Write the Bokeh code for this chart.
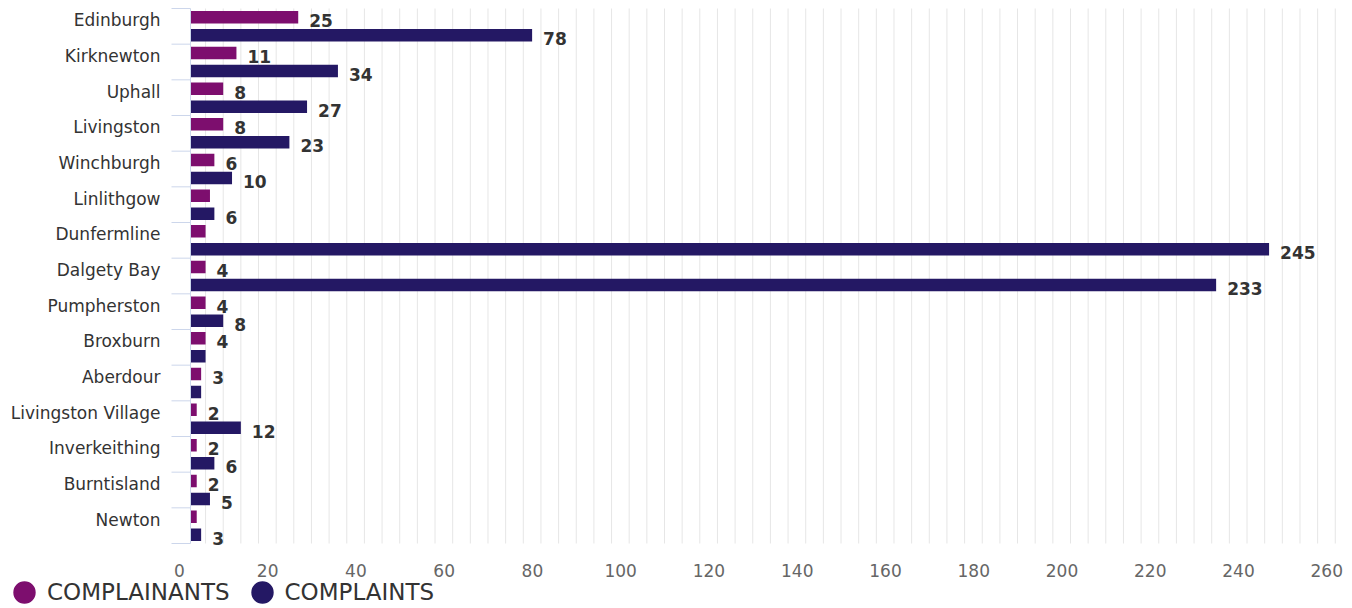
import math
from bokeh.plotting import figure
from bokeh.models import Range1d, ColumnDataSource, Legend, LegendItem
from bokeh.embed import file_html
from bokeh.resources import INLINE
from bokeh.core.properties import value

# ---------------- data ----------------
places = ["Edinburgh", "Kirknewton", "Uphall", "Livingston", "Winchburgh", "Linlithgow",
          "Dunfermline", "Dalgety Bay", "Pumpherston", "Broxburn", "Aberdour",
          "Livingston Village", "Inverkeithing", "Burntisland", "Newton"]
complainants = [25, 11, 8, 8, 6, 5, 4, 4, 4, 4, 3, 2, 2, 2, 2]
complaints = [78, 34, 27, 23, 10, 6, 245, 233, 8, 4, 3, 12, 6, 5, 3]
# which data labels are visible in the original (overlapping ones were hidden)
complainants_label_shown = [True, True, True, True, True, False, False, True, True, True,
                            True, True, True, True, False]
complaints_label_shown = [True, True, True, True, True, True, True, True, True, False,
                          False, True, True, True, True]
x_ticks = [0, 20, 40, 60, 80, 100, 120, 140, 160, 180, 200, 220, 240, 260]
series_names = ["COMPLAINANTS", "COMPLAINTS"]
series_colors = ["#7d0e6e", "#241864"]

# ---------------- layout constants ----------------
FONT = "DejaVu Sans"
W, H = 1352, 608
ZERO_PX = 187.4          # px where value 0 sits
AXIS_PX = 190            # px of the category axis line (bars start here)
PX_PER_UNIT = 4.413
PLOT_TOP = 8             # px of first category boundary
PLOT_BOTTOM = 543        # px of last category boundary
N = len(places)
BAND_PX = (PLOT_BOTTOM - PLOT_TOP) / N
LABEL_SHIFT = 6 / BAND_PX          # category labels sit 6px above band centre
BAR_OFF = 9 / BAND_PX
BAR_H = 12.5 / BAND_PX
AXIS_X = (AXIS_PX - ZERO_PX) / PX_PER_UNIT

idx = list(range(N))
centers = [i + LABEL_SHIFT for i in idx]
y1 = [c - BAR_OFF for c in centers]
y2 = [c + BAR_OFF for c in centers]
boundaries = [i - 0.5 + LABEL_SHIFT for i in range(N + 1)]
b_top, b_bot = boundaries[0], boundaries[-1]

y_end = b_top - PLOT_TOP / BAND_PX          # value at top of canvas
y_start = y_end + H / BAND_PX               # value at bottom of canvas

p = figure(width=W, height=H, output_backend="svg", toolbar_location=None,
           x_range=Range1d(-ZERO_PX / PX_PER_UNIT, (W - ZERO_PX) / PX_PER_UNIT),
           y_range=Range1d(start=y_start, end=y_end),
           min_border=0)
p.outline_line_color = None
p.background_fill_color = "white"
p.xaxis.visible = False
p.yaxis.visible = False
p.grid.visible = False

# vertical grid lines every 4 units (major every 20)
grid_x = sorted(set([t + k for t in x_ticks for k in (0, 4, 8, 12, 16)]))
grid_x = [g for g in grid_x if 0 < g <= x_ticks[-1]]
p.segment(x0=grid_x, y0=[b_top] * len(grid_x), x1=grid_x, y1=[b_bot] * len(grid_x),
          line_color="#e6e6e6", line_width=1)

# bars
src = ColumnDataSource(dict(
    y1=y1, y2=y2, v1=complainants, v2=complaints,
    t1=[str(v) if s else "" for v, s in zip(complainants, complainants_label_shown)],
    t2=[str(v) if s else "" for v, s in zip(complaints, complaints_label_shown)],
))
p.hbar(y="y1", left=AXIS_X, right="v1", height=BAR_H, source=src,
       fill_color=series_colors[0], line_color=None)
p.hbar(y="y2", left=AXIS_X, right="v2", height=BAR_H, source=src,
       fill_color=series_colors[1], line_color=None)

for t, yy, v in (("t1", "y1", "v1"), ("t2", "y2", "v2")):
    p.text(x=v, y=yy, text=t, source=src, x_offset=11, y_offset=3.5,
           text_font=value(FONT), text_font_style="bold", text_font_size=value("17px"),
           text_color="#333333", text_align="left", text_baseline="middle")

# category axis: line, boundary ticks, labels
p.segment(x0=[AXIS_X], y0=[b_top], x1=[AXIS_X], y1=[b_bot], line_color="#ccd6eb", line_width=1)
p.ray(x=[AXIS_X] * len(boundaries), y=boundaries, length=19, length_units="screen",
      angle=math.pi, line_color="#ccd6eb", line_width=1)
p.text(x=[AXIS_X] * N, y=idx, text=places, x_offset=-30,
       text_font=value(FONT), text_font_size=value("17px"), text_color="#333333",
       text_align="right", text_baseline="middle")

# value axis labels
p.text(x=x_ticks, y=[b_bot] * len(x_ticks), text=[str(t) for t in x_ticks],
       x_offset=-8.5, y_offset=27,
       text_font=value(FONT), text_font_size=value("17px"), text_color="#666666",
       text_align="center", text_baseline="middle")

# legend (dummy renderers outside the visible area)
r1 = p.ellipse(x=[-1000], y=[-1000], width=22, height=22, width_units="screen",
               height_units="screen", fill_color=series_colors[0], line_color=None)
r2 = p.ellipse(x=[-1000], y=[-1000], width=22, height=22, width_units="screen",
               height_units="screen", fill_color=series_colors[1], line_color=None)
legend = Legend(items=[LegendItem(label=series_names[0], renderers=[r1]),
                       LegendItem(label=series_names[1], renderers=[r2])],
                location=(10, 2), orientation="horizontal",
                glyph_width=28, glyph_height=28, label_standoff=9, spacing=18,
                padding=0, margin=0, border_line_color=None, background_fill_alpha=0,
                label_text_font=FONT, label_text_font_size="23px",
                label_text_color="#333333")
p.add_layout(legend)

open("out.html", "w").write(file_html(p, INLINE))
